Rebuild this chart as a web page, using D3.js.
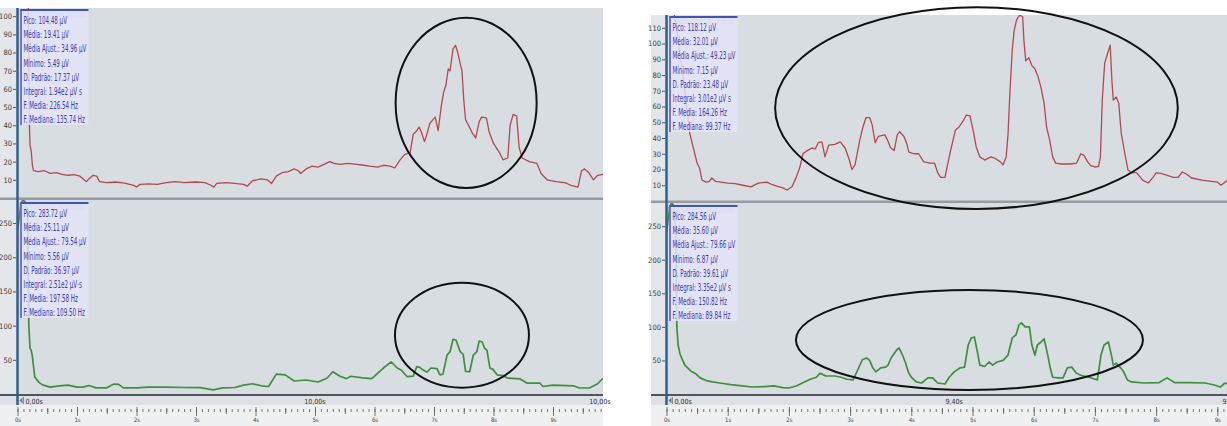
<!DOCTYPE html>
<meta charset="utf-8">
<head>
<script src="https://d3js.org/d3.v7.min.js"></script>
<style>
  body { margin: 0; background: #fff; }
  text { font-family: "Liberation Sans Narrow", "DejaVu Sans Condensed", "Liberation Sans", sans-serif; }
</style>
</head>
<body>
<div id="my_dataviz"></div>
<script>

// ---- data: [time in s, value in µV] ----
var leftRed = [
  [0,110],[0.18,110],[0.19,70],[0.2,40],[0.21,29],[0.23,26],[0.25,18],[0.27,15],[0.35,14.5],[0.45,15],
  [0.55,13.5],[0.65,14],[0.75,13],[0.85,12.5],[0.95,12.8],[1.05,12],[1.12,10],[1.16,9],[1.2,10.5],[1.27,12.5],
  [1.33,12],[1.38,9],[1.5,8.5],[1.65,8.8],[1.8,8.2],[1.95,7],[2.0,6],[2.06,7.5],[2.2,7.8],[2.35,7.5],
  [2.5,8.5],[2.65,9],[2.8,8.5],[3.0,8.8],[3.15,8.5],[3.25,7],[3.3,6],[3.35,8],[3.5,8.5],[3.65,8],
  [3.8,7.5],[3.86,6.5],[3.95,9.5],[4.1,10.5],[4.2,10],[4.27,8],[4.35,12],[4.45,14],[4.55,14.5],[4.65,16],
  [4.72,15],[4.76,13.5],[4.85,16],[4.95,17.5],[5.05,17],[5.15,18.5],[5.25,20],[5.32,19],[5.42,18.5],[5.55,19],
  [5.7,18.5],[5.82,18],[5.92,17.5],[6.05,17],[6.15,18],[6.26,17.5],[6.34,16.5],[6.43,21],[6.51,24],[6.6,25],
  [6.65,35],[6.71,37],[6.75,39],[6.79,36],[6.84,31],[6.88,35],[6.93,41],[6.98,43],[7.02,44.5],[7.07,37],
  [7.12,50],[7.16,58],[7.2,62],[7.24,71],[7.27,70],[7.32,82],[7.36,84],[7.4,80],[7.44,74],[7.47,70],
  [7.5,54],[7.53,43],[7.58,40],[7.64,36],[7.7,33],[7.76,42],[7.8,44.5],[7.88,44],[7.93,36],[8.0,30],
  [8.1,25],[8.16,21],[8.24,22],[8.28,40],[8.33,46],[8.39,45],[8.43,28],[8.48,22],[8.6,20],[8.73,19],
  [8.8,13.5],[8.9,10],[9.05,9],[9.2,8.5],[9.3,7],[9.42,6],[9.48,15],[9.53,16],[9.6,14],[9.68,10],
  [9.75,12.5],[9.84,13]
];

var leftGreen = [
  [0,240],[0.06,278],[0.09,283.7],[0.13,281],[0.17,260],[0.19,100],[0.21,67],[0.23,64],[0.25,55],[0.29,25],
  [0.36,17],[0.43,13],[0.55,10],[0.7,12],[0.85,13],[1.0,10],[1.1,10],[1.2,12.5],[1.32,9],[1.5,9],
  [1.62,14.5],[1.7,14],[1.78,9],[2.0,9],[2.2,10],[2.5,10],[2.8,9.5],[3.07,9.3],[3.29,6],[3.45,9],
  [3.65,9.5],[3.8,13],[3.95,15],[4.1,12],[4.22,11],[4.35,29],[4.5,28],[4.65,19],[4.85,20.5],[5.05,17.5],
  [5.2,23],[5.3,32.6],[5.42,26],[5.53,22.5],[5.6,26],[5.8,23.5],[5.95,22.5],[6.0,26],[6.15,38],[6.28,47],
  [6.38,38],[6.45,35],[6.55,25.3],[6.65,26],[6.71,40],[6.76,39],[6.82,35],[6.88,32],[6.95,38],[7.05,37],
  [7.1,28],[7.15,29],[7.22,57],[7.27,62],[7.32,80],[7.37,79],[7.44,62],[7.49,58],[7.53,33],[7.6,32.6],
  [7.66,57],[7.72,62],[7.76,77.5],[7.81,76],[7.85,67],[7.89,64],[7.94,38],[7.99,36],[8.06,28],[8.16,27],
  [8.23,23.4],[8.45,22],[8.56,16],[8.78,16],[8.83,11],[9.0,13],[9.34,12],[9.45,8.8],[9.62,9],[9.75,15],
  [9.84,23]
];

var rightRed = [
  [0,130],[0.1,125],[0.2,100],[0.3,70],[0.38,43],[0.45,32],[0.5,24],[0.54,21],[0.58,13.3],[0.65,12],
  [0.7,12.5],[0.74,14.6],[0.8,12.5],[0.9,12],[1.0,11.4],[1.12,11],[1.25,10],[1.38,9],[1.5,11.4],[1.64,12],
  [1.72,10.5],[1.8,9.5],[1.9,8.3],[1.97,7],[2.05,9],[2.12,15],[2.18,21.6],[2.23,30],[2.3,32],[2.38,33.7],
  [2.43,33],[2.48,37],[2.54,37.5],[2.59,28],[2.65,35.5],[2.75,36],[2.84,37.5],[2.92,33.5],[2.98,27],[3.03,20],
  [3.08,23],[3.16,39],[3.21,47],[3.26,53],[3.32,53],[3.36,48.5],[3.41,37],[3.46,41],[3.57,42],[3.62,38],
  [3.66,34],[3.72,32],[3.77,42],[3.81,44],[3.88,41],[3.93,36],[3.96,31],[4.05,30],[4.12,30],[4.2,25],
  [4.3,24],[4.38,24],[4.43,18],[4.48,15],[4.55,15],[4.63,30],[4.72,45],[4.78,47],[4.85,51],[4.9,54.6],
  [4.96,54],[5.02,43],[5.06,34.5],[5.12,28],[5.2,26],[5.3,28],[5.37,27],[5.45,25],[5.5,23],[5.55,28],
  [5.58,42],[5.61,68],[5.65,96],[5.68,108],[5.72,115],[5.77,118],[5.82,117],[5.84,102],[5.87,89],[5.92,91],
  [5.97,86],[6.02,84],[6.07,79],[6.12,72],[6.17,62],[6.21,47],[6.26,39],[6.31,28],[6.36,24],[6.45,23.5],
  [6.6,23.5],[6.7,24],[6.77,30],[6.82,29],[6.88,25],[6.93,22.5],[7.0,21.6],[7.06,22],[7.09,28],[7.12,64],
  [7.16,87.6],[7.21,94],[7.25,99],[7.28,75],[7.3,64],[7.35,66],[7.39,62],[7.43,43],[7.49,30],[7.54,19.7],
  [7.6,18],[7.68,18],[7.78,13.3],[7.87,11.4],[7.95,15],[8.0,17.8],[8.08,17.5],[8.17,16.5],[8.28,15],[8.36,15],
  [8.43,18.4],[8.5,17],[8.58,14.6],[8.75,13.3],[8.9,12.5],[9.0,12],[9.06,10],[9.16,13],[9.3,12],[9.4,12]
];

var rightGreen = [
  [0,240],[0.05,278],[0.08,284.5],[0.12,281],[0.15,240],[0.17,98],[0.19,73],[0.22,60],[0.25,53],[0.3,43],
  [0.4,34],[0.48,30],[0.55,24],[0.65,20],[0.75,18],[0.9,16],[1.05,14],[1.2,12.5],[1.4,10.4],[1.6,11],
  [1.75,12],[1.9,9.5],[2.0,9],[2.12,12],[2.22,16.4],[2.35,22],[2.45,25],[2.51,31],[2.6,27],[2.75,26.8],
  [2.85,25],[2.95,22],[3.05,21],[3.12,35],[3.2,51],[3.27,53.6],[3.32,50],[3.37,39],[3.42,33],[3.5,39],
  [3.58,40],[3.62,43],[3.67,53.6],[3.76,65.6],[3.8,68.6],[3.86,57],[3.9,48],[3.95,33],[4.0,25],[4.08,18],
  [4.17,16.4],[4.27,24],[4.35,24],[4.43,16.4],[4.55,14.9],[4.62,25],[4.7,33],[4.8,39],[4.87,40],[4.93,73],
  [4.98,83.5],[5.03,85],[5.08,62.6],[5.12,43],[5.2,41],[5.27,47.7],[5.33,43],[5.4,47.7],[5.5,50],[5.58,58],
  [5.65,83.5],[5.71,88],[5.76,103],[5.8,106],[5.86,100],[5.93,100],[5.97,73],[6.02,58],[6.06,73],[6.12,77.5],
  [6.17,82],[6.23,58],[6.27,39],[6.31,25],[6.4,24],[6.48,24],[6.55,39],[6.62,40],[6.7,31],[6.77,28],
  [6.9,25],[7.04,21],[7.1,58],[7.15,73],[7.22,77.5],[7.27,58],[7.3,43],[7.35,46],[7.42,39],[7.47,33],
  [7.53,21],[7.6,18],[7.8,16.4],[8.05,17],[8.18,24],[8.3,17],[8.55,17],[8.8,16.4],[8.95,13.4],[9.05,10.4],
  [9.12,16],[9.25,15],[9.4,16]
];

// y tick labels
var leftRedTicks = [10, 20, 30, 40, 50, 60, 70, 80, 90, 100];
var rightRedTicks = [10, 20, 30, 40, 50, 60, 70, 80, 90, 100, 110];
var greenTicks = [50, 100, 150, 200, 250];
var secondTicks = [0, 1, 2, 3, 4, 5, 6, 7, 8, 9];

// statistics boxes
var leftRedStats = ["Pico: 104.48 µV", "Média: 19.41 µV", "Média Ajust.: 34.96 µV", "Mínimo: 5.49 µV",
  "D. Padrão: 17.37 µV", "Integral: 1.94e2 µV s", "F. Media: 226.54 Hz", "F. Mediana: 135.74 Hz"];
var leftGreenStats = ["Pico: 283.72 µV", "Média: 25.11 µV", "Média Ajust.: 79.54 µV", "Mínimo: 5.56 µV",
  "D. Padrão: 36.97 µV", "Integral: 2.51e2 µV·s", "F. Media: 197.58 Hz", "F. Mediana: 109.50 Hz"];
var rightRedStats = ["Pico: 118.12 µV", "Média: 32.01 µV", "Média Ajust.: 49.23 µV", "Mínimo: 7.15 µV",
  "D. Padrão: 23.48 µV", "Integral: 3.01e2 µV s", "F. Media: 164.26 Hz", "F. Mediana: 99.37 Hz"];
var rightGreenStats = ["Pico: 284.56 µV", "Média: 35.60 µV", "Média Ajust.: 79.66 µV", "Mínimo: 6.87 µV",
  "D. Padrão: 39.61 µV", "Integral: 3.35e2 µV s", "F. Media: 150.82 Hz", "F. Mediana: 89.84 Hz"];

// highlighted regions: [centre time, centre value, half width in s, half height in µV]
var leftRedMark = [7.54, 52.3, 1.185, 46.8];
var leftGreenMark = [7.47, 86, 1.126, 76.8];
var rightRedMark = [5.065, 59, 3.29, 64.1];
var rightGreenMark = [4.95, 80.5, 2.835, 74.5];

var svg = d3.select("#my_dataviz")
  .append("svg")
    .attr("width", 1227)
    .attr("height", 426);

var marks = [];   // ellipses drawn last, over everything
var clipId = 0;

function statsBox(g, x0, y0, lines, name) {
  // channel name, mostly hidden behind the box
  g.append("text")
    .attr("transform", "translate(" + (x0 + 64) + "," + (y0 + 8) + ") scale(0.72,1)")
    .attr("text-anchor", "end")
    .style("font-size", "9px")
    .style("fill", "#a9aeb9")
    .text(name);
  g.append("rect")
    .attr("x", x0).attr("y", y0)
    .attr("width", 68).attr("height", 116)
    .attr("fill", "rgba(228,228,247,0.84)");
  g.append("line")
    .attr("x1", x0).attr("x2", x0 + 68).attr("y1", y0 + 1).attr("y2", y0 + 1)
    .attr("stroke", "#3f55b3").attr("stroke-width", 2);
  g.append("line")
    .attr("x1", x0 + 0.5).attr("x2", x0 + 0.5).attr("y1", y0).attr("y2", y0 + 116)
    .attr("stroke", "#5a5ac6").attr("stroke-width", 1.6);
  var tg = g.append("g");
  var texts = tg.selectAll("text")
    .data(lines)
    .enter()
    .append("text")
      .attr("x", 0)
      .attr("y", function (d, i) { return 15 + i * 14.2; })
      .style("font-size", "10.5px")
      .style("fill", "#3a3cb0")
      .text(function (d) { return d; });
  var w = d3.max(texts.nodes(), function (n) { return n.getComputedTextLength(); });
  tg.attr("transform", "translate(" + (x0 + 3) + "," + y0 + ") scale(" + (63 / w) + ",1)");
}

function drawPanel(p) {
  var g = svg.append("g");

  var x = d3.scaleLinear()
    .domain([0, p.seconds])
    .range([p.axisX, p.axisX + p.seconds * p.pxPerSec]);
  var yRed = d3.scaleLinear()
    .domain([0, p.redMax])
    .range([p.sepY, p.top]);
  var yGreen = d3.scaleLinear()
    .domain([0, p.greenMax])
    .range([p.bottomY, p.sepY + 2]);

  // backgrounds
  g.append("rect").attr("x", p.left).attr("y", p.top)
    .attr("width", p.axisX - p.left).attr("height", p.bottomY - p.top).attr("fill", "#e4e6e9");
  g.append("rect").attr("x", p.axisX).attr("y", p.top)
    .attr("width", p.right - p.axisX).attr("height", p.bottomY - p.top).attr("fill", "#d8dde2");
  g.append("rect").attr("x", p.left).attr("y", p.sepY - 0.5)
    .attr("width", p.right - p.left).attr("height", 2.5).attr("fill", "#969ba1");
  g.append("rect").attr("x", p.left).attr("y", p.bottomY)
    .attr("width", p.right - p.left).attr("height", 11).attr("fill", "#dde0e4");
  g.append("rect").attr("x", p.left).attr("y", p.bottomY)
    .attr("width", p.right - p.left).attr("height", 2).attr("fill", "#50555b");
  g.append("rect").attr("x", p.left).attr("y", p.bottomY + 11)
    .attr("width", p.right - p.left).attr("height", 426 - p.bottomY - 11).attr("fill", "#eef0f2");

  // traces, clipped to their plots
  function trace(data, y, y0, y1, color, width) {
    var id = "clip" + (clipId++);
    g.append("clipPath").attr("id", id)
      .append("rect")
        .attr("x", p.axisX).attr("y", y0)
        .attr("width", p.right - p.axisX).attr("height", y1 - y0);
    g.append("path")
      .datum(data)
      .attr("clip-path", "url(#" + id + ")")
      .attr("fill", "none")
      .attr("stroke", color)
      .attr("stroke-width", width)
      .attr("stroke-linejoin", "round")
      .attr("d", d3.line()
        .x(function (d) { return x(d[0]); })
        .y(function (d) { return y(d[1]); }));
  }
  trace(p.red, yRed, p.top, p.sepY - 0.5, "#b5474e", 1.3);
  trace(p.green, yGreen, p.sepY + 2, p.bottomY, "#3f8f3f", 1.7);

  // statistics boxes
  statsBox(g, p.axisX + 3, p.top + 1, p.redStats, p.redName);
  statsBox(g, p.axisX + 3, p.sepY + 4, p.greenStats, p.greenName);

  // y axes
  [[yRed, p.redTicks], [yGreen, greenTicks]].forEach(function (a) {
    var ax = g.append("g")
      .attr("transform", "translate(" + (p.axisX - 1.5) + ",0)")
      .call(d3.axisLeft(a[0]).tickValues(a[1]).tickSize(3).tickPadding(1));
    ax.select(".domain").remove();
    ax.selectAll("line").attr("stroke", "#555");
    ax.selectAll("text").style("font-size", "7.5px").style("fill", "#3c3c3c")
      .style("font-family", "'Liberation Sans Narrow', 'DejaVu Sans Condensed', sans-serif");
  });

  // vertical axis line
  g.append("line")
    .attr("x1", p.axisX).attr("x2", p.axisX)
    .attr("y1", p.top).attr("y2", p.bottomY + 11)
    .attr("stroke", "#2f5f8c").attr("stroke-width", 2.5);

  // time bar labels
  g.append("path")
    .attr("d", "M" + (p.axisX + 2) + "," + (p.bottomY + 6.5) + "l3,-3v6z")
    .attr("fill", "#777");
  g.append("line")
    .attr("x1", p.axisX + 6).attr("x2", p.axisX + 6)
    .attr("y1", p.bottomY + 3).attr("y2", p.bottomY + 10)
    .attr("stroke", "#777").attr("stroke-width", 0.8);
  g.append("text")
    .attr("x", p.axisX + 8).attr("y", p.bottomY + 9.5)
    .style("font-size", "7px").style("fill", "#333")
    .text("0,00s");
  g.append("text")
    .attr("x", x(p.seconds / 2)).attr("y", p.bottomY + 9.5)
    .attr("text-anchor", "middle")
    .style("font-size", "7px").style("fill", "#333")
    .text(p.totalLabel);
  g.append("text")
    .attr("x", x(p.seconds) - (x(p.seconds) > p.right ? 2 : 10)).attr("y", p.bottomY + 9.5)
    .attr("text-anchor", "end")
    .style("font-size", "7px").style("fill", "#333")
    .text(p.totalLabel);

  // time ticks: tenths, halves and seconds
  var tenths = d3.range(0, p.tLast, 0.1);
  var halves = d3.range(0.5, p.tLast, 1);
  var ta = g.append("g")
    .attr("transform", "translate(0," + (p.bottomY + 15) + ")")
    .call(d3.axisBottom(x).tickValues(tenths).tickSize(3).tickFormat(""));
  var tb = g.append("g")
    .attr("transform", "translate(0," + (p.bottomY + 14) + ")")
    .call(d3.axisBottom(x).tickValues(halves).tickSize(6).tickFormat(""));
  var tc = g.append("g")
    .attr("transform", "translate(0," + (p.bottomY + 13) + ")")
    .call(d3.axisBottom(x).tickValues(secondTicks).tickSize(9).tickPadding(2)
      .tickFormat(function (d) { return d + "s"; }));
  [ta, tb, tc].forEach(function (a) {
    a.select(".domain").remove();
    a.selectAll("line").attr("stroke", "#555").attr("stroke-width", 0.8);
  });
  tc.selectAll("text").style("font-size", "6px").style("fill", "#444")
    .style("font-family", "'Liberation Sans Narrow', 'DejaVu Sans Condensed', sans-serif");

  marks.push([x, yRed, p.redMark], [x, yGreen, p.greenMark]);
}

drawPanel({
  left: 0, axisX: 17.5, right: 603, top: 8, sepY: 198, bottomY: 394,
  seconds: 10, pxPerSec: 59.5, tLast: 9.84,
  redMax: 104.48, greenMax: 283.72, redTicks: leftRedTicks,
  red: leftRed, green: leftGreen,
  redStats: leftRedStats, greenStats: leftGreenStats,
  redName: "Reto femoral direito", greenName: "Reto femoral esquerdo",
  totalLabel: "10,00s", redMark: leftRedMark, greenMark: leftGreenMark
});

drawPanel({
  left: 651, axisX: 666.5, right: 1227, top: 15, sepY: 201, bottomY: 394,
  seconds: 9.4, pxPerSec: 61.2, tLast: 9.2,
  redMax: 118.12, greenMax: 284.56, redTicks: rightRedTicks,
  red: rightRed, green: rightGreen,
  redStats: rightRedStats, greenStats: rightGreenStats,
  redName: "Reto femoral direito", greenName: "Reto femoral esquerdo",
  totalLabel: "9,40s", redMark: rightRedMark, greenMark: rightGreenMark
});

// hand-drawn style ellipses around the bursts
marks.forEach(function (m) {
  var x = m[0], y = m[1], e = m[2];
  svg.append("ellipse")
    .attr("cx", x(e[0]))
    .attr("cy", y(e[1]))
    .attr("rx", x(e[2]) - x(0))
    .attr("ry", y(0) - y(e[3]))
    .attr("fill", "none")
    .attr("stroke", "#111")
    .attr("stroke-width", 2);
});

</script>
</body>
</html>
